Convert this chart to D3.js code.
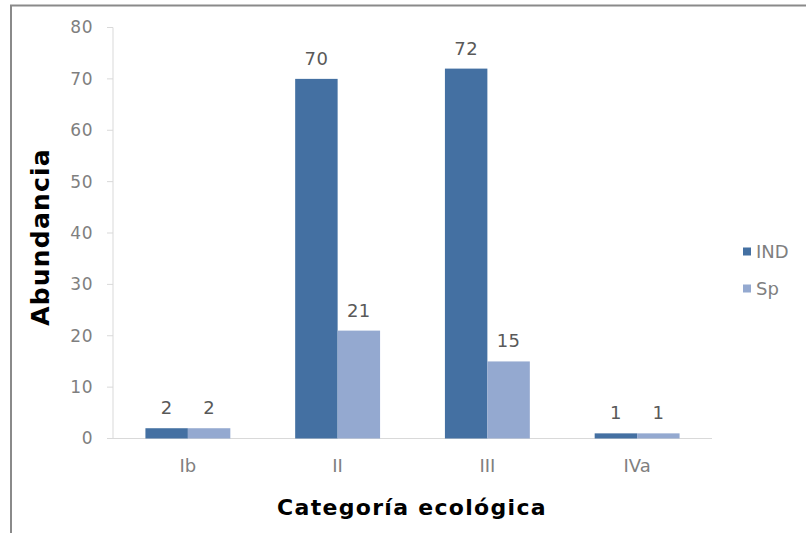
<!DOCTYPE html>
<html><head><meta charset="utf-8">
<script src="https://cdn.jsdelivr.net/npm/d3@7"></script>
<style>body{margin:0;background:#fff}</style>
</head><body>
<script>
const categories = ["Ib", "II", "III", "IVa"];
const seriesNames = ["IND", "Sp"];
const indValues = [2, 70, 72, 1];
const spValues = [2, 21, 15, 1];
const yTicks = [0, 10, 20, 30, 40, 50, 60, 70, 80];
const colors = ["#4470A2", "#94A9D0"];

const W = 806, H = 533;
const svg = d3.select("body").append("svg").attr("width", W).attr("height", H)
  .style("font-family", "'DejaVu Sans', sans-serif");

// frame (top + left)
svg.append("line").attr("x1", 10).attr("x2", W).attr("y1", 5.5).attr("y2", 5.5).attr("stroke", "#8a8a8a").attr("stroke-width", 2);
svg.append("line").attr("x1", 11).attr("x2", 11).attr("y1", 5).attr("y2", H).attr("stroke", "#8a8a8a").attr("stroke-width", 2);

const x0 = d3.scaleBand().domain(categories).range([113, 712]).paddingInner(0.433).paddingOuter(0.2165);
const x1 = d3.scaleBand().domain(seriesNames).range([0, x0.bandwidth()]);
const y = d3.scaleLinear().domain([0, 80]).range([438.5, 27.5]);

// y axis
const ya = svg.append("g").attr("transform", "translate(113,0)");
ya.append("line").attr("x1", 0).attr("x2", 0).attr("y1", y(80)).attr("y2", y(0)).attr("stroke", "#d9d9d9");
yTicks.forEach(t => {
  ya.append("line").attr("x1", -6).attr("x2", 0).attr("y1", y(t)).attr("y2", y(t)).attr("stroke", "#d9d9d9");
  ya.append("text").attr("x", -20).attr("y", y(t)).attr("dy", "0.35em").attr("text-anchor", "end")
    .attr("fill", "#7f7f7f").attr("font-size", 17).attr("letter-spacing", 0.5).text(t);
});
// x axis
svg.append("line").attr("x1", 107).attr("x2", 712).attr("y1", y(0)).attr("y2", y(0)).attr("stroke", "#d9d9d9");
categories.forEach(c => {
  svg.append("text").attr("x", x0(c) + x0.bandwidth() / 2).attr("y", 466).attr("dy", "0.35em")
    .attr("text-anchor", "middle").attr("fill", "#7f7f7f").attr("font-size", 18).text(c);
});

const series = [indValues, spValues];
series.forEach((vals, si) => {
  categories.forEach((c, i) => {
    const bx = x0(c) + x1(seriesNames[si]);
    svg.append("rect").attr("x", bx).attr("y", y(vals[i])).attr("width", x1.bandwidth())
      .attr("height", y(0) - y(vals[i])).attr("fill", colors[si]);
    svg.append("text").attr("x", bx + x1.bandwidth() / 2).attr("y", y(vals[i]) - 14)
      .attr("text-anchor", "middle").attr("fill", "#595959").attr("font-size", 18).attr("letter-spacing", 0.5).text(vals[i]);
  });
});

// axis titles
svg.append("text").attr("x", 412).attr("y", 515).attr("text-anchor", "middle")
  .attr("font-weight", "bold").attr("font-size", 22).attr("letter-spacing", 1.3).attr("fill", "#000").text("Categoría ecológica");
svg.append("text").attr("transform", "translate(49,237) rotate(-90)").attr("text-anchor", "middle")
  .attr("font-weight", "bold").attr("font-size", 25).attr("letter-spacing", 1.2).attr("fill", "#000").text("Abundancia");

// legend
seriesNames.forEach((s, i) => {
  const ly = 252 + i * 37;
  svg.append("rect").attr("x", 743).attr("y", ly - 4.5).attr("width", 8).attr("height", 8).attr("fill", colors[i]);
  svg.append("text").attr("x", 756).attr("y", ly).attr("dy", "0.35em").attr("fill", "#7f7f7f")
    .attr("font-size", 18).text(s);
});
</script>
</body></html>
